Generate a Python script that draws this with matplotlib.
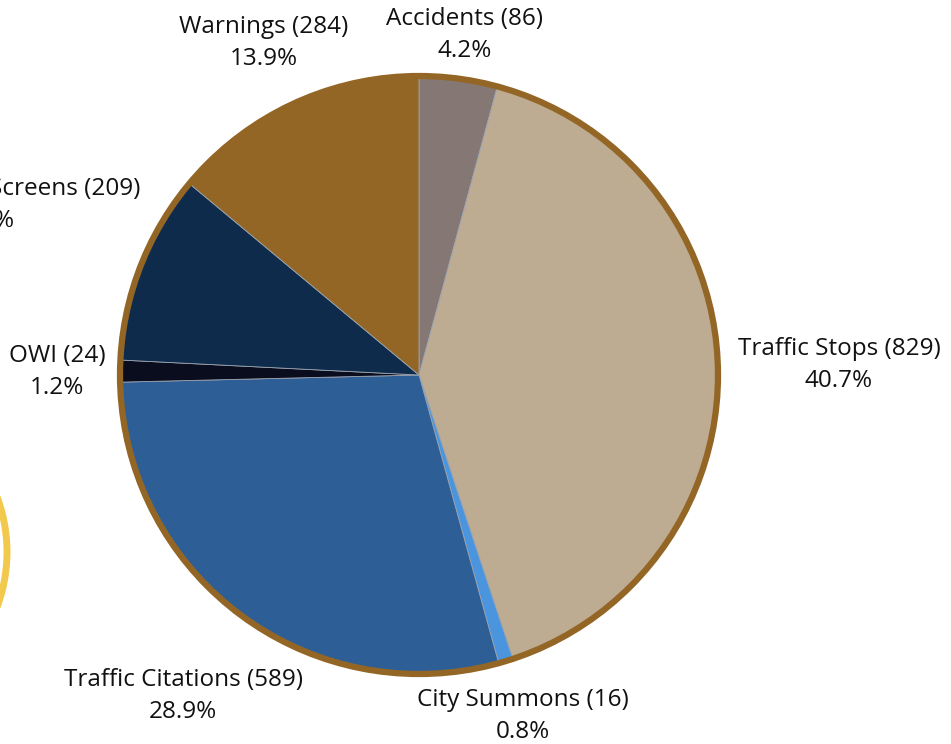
import matplotlib.pyplot as plt
from matplotlib.patches import Circle

# data (clockwise from top)
labels = ["Accidents", "Traffic Stops", "City Summons", "Traffic Citations",
          "OWI", "Screens", "Warnings"]
counts = [86, 829, 16, 589, 24, 209, 284]
colors = ["#857874", "#BDAB92", "#4A95DD", "#2E5E96",
          "#0A0D1E", "#0F2B4B", "#936626"]

total = sum(counts)
pcts = [c / total * 100 for c in counts]

W, H = 951, 744
fig = plt.figure(figsize=(W / 100, H / 100), dpi=100)
ax = fig.add_axes([0, 0, 1, 1])


def py(y):
    # pixel row -> data y
    return H - y


cx, cy, r = 419, py(375), 299

ax.pie(counts, colors=colors, startangle=90, counterclock=False,
       center=(cx, cy), radius=r, frame=True,
       wedgeprops=dict(linewidth=0.6, edgecolor="#9aa3b0"))
ax.set_xlim(0, W)
ax.set_ylim(0, H)
ax.set_aspect("equal")
ax.axis("off")

# brown outline
ax.add_patch(Circle((cx, cy), r, fill=False, edgecolor="#936626", linewidth=4.5, zorder=5))

# yellow ring partly off-canvas at left
ax.add_patch(Circle((-150, py(552)), 157, fill=False, edgecolor="#F2C94C",
                    linewidth=5, zorder=1))

font = dict(family="Open Sans", fontsize=17.5, color="#111111")

# label positions (pixel coords of text centre)
label_pos = {
    "Accidents": (465, 19),
    "Traffic Stops": (839, 349),
    "City Summons": (523, 700),
    "Traffic Citations": (183, 680),
    "OWI": (57, 356),
    "Warnings": (264, 27),
}
for name, cnt, p in zip(labels, counts, pcts):
    if name in label_pos:
        x, y = label_pos[name]
        ax.text(x, py(y), f"{name} ({cnt})", ha="center", va="center", **font)
        ax.text(x, py(y + 32), f"{p:.1f}%", ha="center", va="center", **font)

# screens label is cut off at the left edge, as in the source
i = labels.index("Screens")
ax.text(140, py(189), f"Screens ({counts[i]})", ha="right", va="center", **font)
ax.text(15, py(221), f"{pcts[i]:.1f}%", ha="right", va="center", **font)

fig.savefig("out.png", dpi=100)
